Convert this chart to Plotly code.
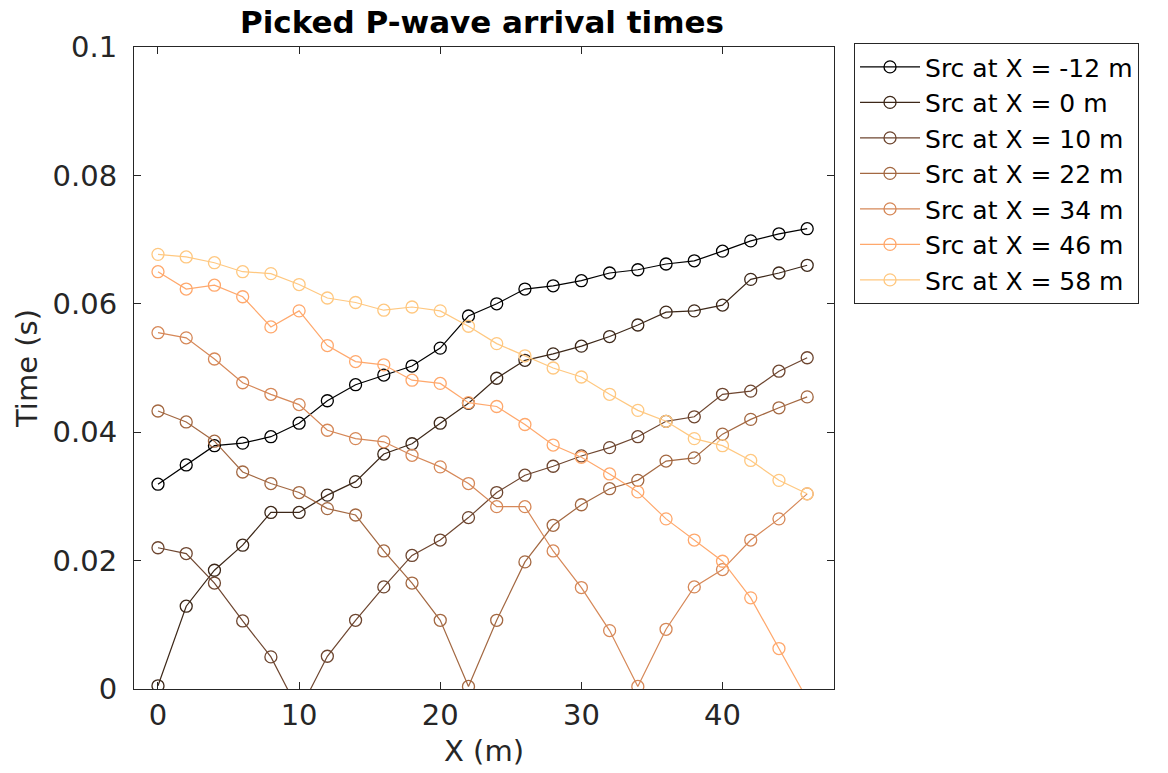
import plotly.graph_objects as go

x_pos = [0, 2, 4, 6, 8, 10, 12, 14, 16, 18, 20, 22, 24, 26, 28, 30, 32, 34, 36, 38, 40, 42, 44, 46]

src_names = ["Src at X = -12 m", "Src at X = 0 m", "Src at X = 10 m", "Src at X = 22 m",
             "Src at X = 34 m", "Src at X = 46 m", "Src at X = 58 m"]

t_src_m12 = [0.0319, 0.0349, 0.0379, 0.0383, 0.0393, 0.0414, 0.0449, 0.0474, 0.0489, 0.0503, 0.0531, 0.0581,
             0.0600, 0.0623, 0.0628, 0.0636, 0.0648, 0.0653, 0.0662, 0.0667, 0.0682, 0.0698, 0.0709, 0.0717]
t_src_0 = [0.0005, 0.0129, 0.0185, 0.0224, 0.0275, 0.0275, 0.0302, 0.0323, 0.0366, 0.0382, 0.0414, 0.0445,
           0.0484, 0.0512, 0.0522, 0.0534, 0.0549, 0.0567, 0.0587, 0.0589, 0.0598, 0.0638, 0.0648, 0.0660]
t_src_10 = [0.0220, 0.0211, 0.0165, 0.0106, 0.0050, -0.0035, 0.0051, 0.0107, 0.0159, 0.0208, 0.0232, 0.0267,
            0.0306, 0.0333, 0.0347, 0.0363, 0.0376, 0.0393, 0.0417, 0.0424, 0.0459, 0.0464, 0.0495, 0.0516]
t_src_22 = [0.0433, 0.0416, 0.0386, 0.0338, 0.0320, 0.0306, 0.0281, 0.0271, 0.0215, 0.0165, 0.0107, 0.0004,
            0.0107, 0.0198, 0.0255, 0.0287, 0.0312, 0.0325, 0.0355, 0.0360, 0.0397, 0.0420, 0.0438, 0.0455]
t_src_34 = [0.0555, 0.0547, 0.0514, 0.0477, 0.0459, 0.0443, 0.0403, 0.0390, 0.0385, 0.0364, 0.0346, 0.0320,
            0.0284, 0.0284, 0.0215, 0.0158, 0.0091, 0.0004, 0.0093, 0.0159, 0.0186, 0.0232, 0.0265, 0.0304]
t_src_46 = [0.0650, 0.0623, 0.0629, 0.0611, 0.0564, 0.0589, 0.0535, 0.0510, 0.0505, 0.0481, 0.0476, 0.0446,
            0.0440, 0.0412, 0.0380, 0.0361, 0.0335, 0.0307, 0.0265, 0.0232, 0.0199, 0.0142, 0.0063, -0.0016]
t_src_58 = [0.0677, 0.0673, 0.0664, 0.0650, 0.0647, 0.0630, 0.0609, 0.0602, 0.0590, 0.0595, 0.0589, 0.0565,
            0.0538, 0.0519, 0.0500, 0.0486, 0.0459, 0.0434, 0.0417, 0.0390, 0.0379, 0.0356, 0.0325, 0.0304]

series = [t_src_m12, t_src_0, t_src_10, t_src_22, t_src_34, t_src_46, t_src_58]
colors = ["#000000", "#3d2819", "#6e4630", "#a36842", "#d68858", "#ffa86c", "#ffc880"]

fig = go.Figure()
for name, ys, col in zip(src_names, series, colors):
    fig.add_trace(go.Scatter(
        x=x_pos, y=ys, name=name, mode="lines+markers",
        line=dict(color=col, width=1.2),
        marker=dict(symbol="circle-open", size=12, color=col, line=dict(width=1.3, color=col)),
    ))

axis_common = dict(
    showline=True, linecolor="#262626", linewidth=1, mirror="ticks",
    ticks="inside", ticklen=7, tickcolor="#262626", tickwidth=1,
    showgrid=False, zeroline=False,
    tickfont=dict(family="DejaVu Sans", size=29, color="#262626"),
)

fig.update_layout(
    width=1168, height=773,
    margin=dict(l=126, r=342, t=39, b=92),
    paper_bgcolor="white", plot_bgcolor="white",
    title=dict(text="<b>Picked P-wave arrival times</b>", x=474 / 1168, xanchor="center",
               y=1.0, yanchor="top", pad=dict(t=3),
               font=dict(family="DejaVu Sans", size=31, color="black")),
    xaxis=dict(range=[-1.7, 47.9], tickvals=[0, 10, 20, 30, 40],
               title=dict(text="X (m)", font=dict(family="DejaVu Sans", size=29, color="#262626"), standoff=9),
               **axis_common),
    yaxis=dict(range=[0, 0.1], tickvals=[0, 0.02, 0.04, 0.06, 0.08, 0.1],
               ticktext=["0", "0.02", "0.04", "0.06", "0.08", "0.1"],
               ticklabelstandoff=10,
               title=dict(text="Time (s)", font=dict(family="DejaVu Sans", size=29, color="#262626"), standoff=6),
               **axis_common),
    legend=dict(x=1.0286, xanchor="left", y=1.006, yanchor="top",
                bordercolor="#262626", borderwidth=1, bgcolor="white",
                font=dict(family="DejaVu Sans", size=25, color="black"),
                tracegroupgap=0, itemwidth=60),
    showlegend=True,
)

fig.write_html("out.html")
